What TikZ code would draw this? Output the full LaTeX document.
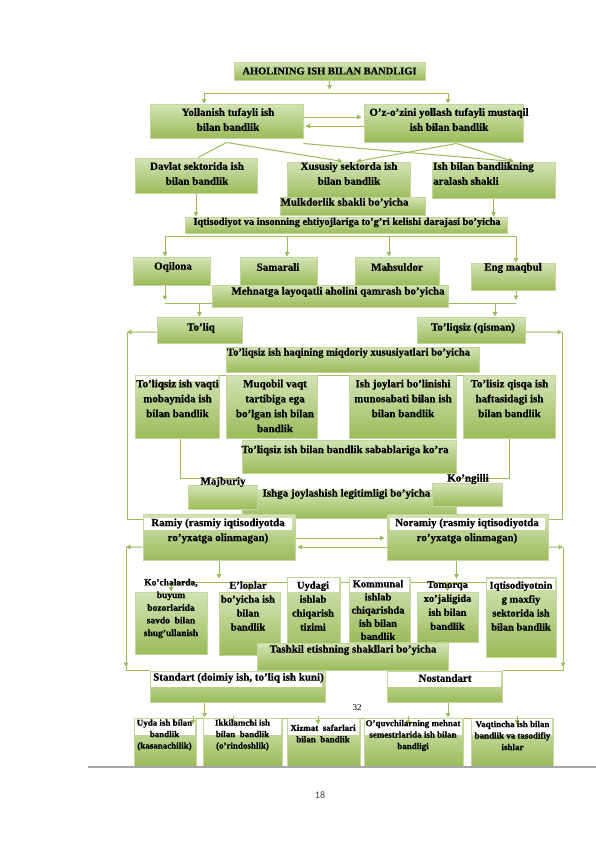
\documentclass[tikz,border=0pt]{standalone}
\usepackage{fontspec}
\setmainfont{Liberation Serif}[BoldFeatures={FakeBold=0.6}]
\newfontfamily\pagenofont{Carlito}
\usetikzlibrary{arrows.meta, backgrounds}
\definecolor{boxtop}{HTML}{D4E3B6}
\definecolor{boxbot}{HTML}{9BBB59}
\definecolor{boxedge}{HTML}{C3D69B}
\definecolor{linkgreen}{HTML}{9BBB59}
\definecolor{rulegray}{HTML}{A6A6A6}

\begin{document}
\begin{tikzpicture}[
    x=1bp, y=-1bp,
    >={Triangle[length=4.5bp, width=4.5bp]},
    box/.style={draw=boxedge, line width=1bp, top color=boxtop, bottom color=boxbot, inner sep=0pt},
    txt/.style={font=\fontsize{11}{15}\selectfont\bfseries, align=center, inner sep=0pt},
    midtxt/.style={txt, font=\fontsize{10.5}{14}\selectfont\bfseries},
    smalltxt/.style={txt, font=\fontsize{9}{11.5}\selectfont\bfseries},
    conn/.style={draw=linkgreen, line width=1bp},
    arr/.style={conn, ->}
]
    \useasboundingbox (0,0) rectangle (596,842);

    % 1. Boxes, from the top of the page down
    \node[box, minimum width=191bp, minimum height=18bp] (title) at (329.5,71) {};
    \node[box, minimum width=153bp, minimum height=34bp] (yoll) at (226.5,121) {};
    \node[box, minimum width=159bp, minimum height=38bp] (ozoz) at (443.5,123) {};
    \node[box, minimum width=122bp, minimum height=35bp] (davlat) at (196,175.5) {};
    \node[box, minimum width=123bp, minimum height=38bp] (xusus) at (348.5,181) {};
    \node[box, minimum width=123bp, minimum height=36bp] (aral) at (493.5,180) {};
    \node[box, minimum width=145bp, minimum height=18bp] (mulk) at (352.5,206) {};
    \node[box, minimum width=322bp, minimum height=16bp] (iqt) at (346,225) {};
    \node[box, minimum width=77bp, minimum height=28bp] (oqil) at (171.5,271) {};
    \node[box, minimum width=77bp, minimum height=28bp] (sama) at (278.5,271) {};
    \node[box, minimum width=84bp, minimum height=28bp] (mahs) at (397,271) {};
    \node[box, minimum width=84bp, minimum height=27bp] (engm) at (513,276.5) {};
    \node[box, minimum width=236bp, minimum height=22bp] (mehn) at (330,296) {};
    \node[box, minimum width=85bp, minimum height=26bp] (toliq) at (199.5,330) {};
    \node[box, minimum width=108bp, minimum height=26bp] (tolqs) at (471,330) {};
    \node[box, minimum width=253bp, minimum height=25bp] (haq) at (352.5,359.5) {};
    \node[box, minimum width=84bp, minimum height=63bp] (vaqt) at (177,406.5) {};
    \node[box, minimum width=91bp, minimum height=63bp] (muqo) at (271.5,406.5) {};
    \node[box, minimum width=107bp, minimum height=63bp] (joyl) at (402.5,406.5) {};
    \node[box, minimum width=92bp, minimum height=63bp] (hafta) at (509,406.5) {};
    \node[box, minimum width=214bp, minimum height=33bp] (sabab) at (349,456.5) {};
    \node[box, minimum width=214bp, minimum height=28bp] (legit) at (349,504) {};
    \node[box, minimum width=69bp, minimum height=24bp] (majb) at (222.5,497) {};
    \node[box, minimum width=70bp, minimum height=23bp] (kong) at (467,494.5) {};
    \node[box, minimum width=152bp, minimum height=46bp] (ramiy) at (219,537) {};
    \node[box, minimum width=161bp, minimum height=46bp] (noram) at (467.5,537) {};
    \node[box, minimum width=72bp, minimum height=62bp] (koch) at (171,623) {};
    \node[box, minimum width=61bp, minimum height=63bp] (elon) at (249.5,623.5) {};
    \node[box, minimum width=53bp, minimum height=78bp] (uyda) at (313.5,616) {};
    \node[box, minimum width=61bp, minimum height=65bp] (komm) at (379.5,609.5) {};
    \node[box, minimum width=61bp, minimum height=50bp] (tomo) at (447.5,617) {};
    \node[box, minimum width=70bp, minimum height=80bp] (maxf) at (521,617) {};
    \node[box, minimum width=191bp, minimum height=27bp] (tashk) at (352.5,656.5) {};
    \node[box, minimum width=175bp, minimum height=31bp] (stand) at (237.5,686.5) {};
    \node[box, minimum width=115bp, minimum height=31bp] (nost) at (444.5,686.5) {};
    \node[box, minimum width=62bp, minimum height=48bp] (uyBox) at (165,742) {};
    \node[box, minimum width=79bp, minimum height=48bp] (ikki) at (242.5,742) {};
    \node[box, minimum width=73bp, minimum height=48bp] (xizm) at (323.5,742) {};
    \node[box, minimum width=99bp, minimum height=48bp] (oquv) at (413.5,742) {};
    \node[box, minimum width=82bp, minimum height=48bp] (vaqtin) at (512,742) {};

    % 2. Connectors, behind the boxes
    \begin{pgfonlayer}{background}
        \fill[white] (0,0) rectangle (596,842);

        % title to the two kinds of employment
        \coordinate (splitL) at (204,93);
        \coordinate (splitR) at (448,93);
        \draw[arr] (title.south) -- ++(0,9);
        \draw[conn] (splitL) -- (splitR);
        \draw[arr] (splitL) -- (splitL |- yoll.north);
        \draw[arr] (splitR) -- (splitR |- ozoz.north);
        \draw[arr, shorten >=2bp] ([yshift=4bp]yoll.east) -- ([yshift=4bp]yoll.east -| ozoz.west);
        \draw[arr, shorten >=2bp] ([yshift=-3bp]ozoz.west) -- ([yshift=-3bp]ozoz.west -| yoll.east);

        % ownership forms
        \draw[conn] ([yshift=-4bp]yoll.south) -- ([xshift=2bp]davlat.north);
        \draw[arr] ([yshift=-4bp]yoll.south) -- ([xshift=-6bp]xusus.north);
        \draw[arr] ([yshift=-5bp]yoll.south east) -- ([xshift=20bp]aral.north);
        \draw[arr] ([xshift=13bp, yshift=-1bp]ozoz.south) -- ([xshift=8bp]xusus.north);
        \draw[arr] ([xshift=13bp, yshift=-1bp]ozoz.south) -- ([xshift=20bp]aral.north);
        \draw[arr] (davlat.south) -- (davlat.south |- iqt.north);
        \draw[arr] (xusus.south) -- (xusus.south |- iqt.north);
        \draw[arr] (aral.south) -- (aral.south |- iqt.north);

        % four levels
        \coordinate (iqtL) at (165,236);
        \coordinate (iqtB) at (287,236);
        \coordinate (iqtC) at (389,236);
        \coordinate (iqtR) at (516,236);
        \draw[conn] (iqtL) -- (iqtR);
        \draw[arr] (iqtL) -- (iqtL |- oqil.north);
        \draw[arr] (iqtB) -- (iqtB |- sama.north);
        \draw[arr] (iqtC) -- (iqtC |- mahs.north);
        \draw[arr] (iqtR) -- (iqtR |- engm.north);

        % full / part time
        \coordinate (mehL) at (165,303);
        \coordinate (mehQ) at (495,303);
        \coordinate (mehR) at (516,303);
        \draw[conn] (mehL) -- (mehR);
        \draw[arr] (oqil.south -| mehL) -- ([yshift=3bp]mehL);
        \draw[arr] (engm.south -| mehR) -- ([yshift=3bp]mehR);
        \draw[arr] ([xshift=-6bp]sama.south) -- ++(0,15);
        \draw[arr] ([xshift=15bp]mahs.south) -- ++(0,15);
        \draw[arr] (toliq.north |- mehL) -- (toliq.north);
        \draw[arr] (mehQ) -- (mehQ |- tolqs.north);

        % outer loop to formal / informal
        \coordinate (loopUL) at (127,332);
        \coordinate (loopLL) at (127,519);
        \coordinate (loopUR) at (562,332);
        \coordinate (loopLR) at (562,519);
        \draw[arr] ([yshift=-2bp]toliq.west) -- (loopUL);
        \draw[conn] (loopUL) -- (loopLL) -- (loopLL -| ramiy.west);
        \draw[arr] ([yshift=-2bp]tolqs.east) -- (loopUR);
        \draw[conn] (loopUR) -- (loopLR) -- (loopLR -| noram.east);

        % part time kinds and reasons
        \coordinate (haqL) at (180,375);
        \coordinate (haqR) at (509,375);
        \coordinate (sabL) at (180,478);
        \coordinate (sabR) at (509,478);
        \draw[conn] (haqL) -- (haqR);
        \draw[conn] (haqL) -- (sabL) -- (sabL -| sabab.west);
        \draw[conn] (haqR) -- (sabR) -- (sabR -| sabab.east);

        % formal / informal
        \draw[arr, shorten >=2bp] ([yshift=-1bp]ramiy.east) -- ([yshift=-1bp]ramiy.east -| noram.west);
        \draw[arr, shorten >=2bp] ([yshift=-10bp]noram.west) -- ([yshift=-10bp]noram.west -| ramiy.east);
        \coordinate (lowUL) at (126,547);
        \coordinate (lowLL) at (126,667);
        \coordinate (lowUR) at (563,547);
        \coordinate (lowLR) at (563,667);
        \draw[arr] ([yshift=-10bp]ramiy.west) -- (lowUL);
        \draw[arr] (lowUL) -- (lowLL);
        \draw[conn] (lowLL) |- (stand.north west);
        \draw[arr] ([yshift=-10bp]noram.east) -- (lowUR);
        \draw[arr] (lowUR) -- (lowLR);
        \draw[conn] (lowLR) |- (nost.north east);

        % organisation forms
        \coordinate (rowL) at (171,582);
        \coordinate (rowR) at (521,582);
        \draw[arr] (ramiy.south) -- ++(0,18);
        \draw[arr] ([xshift=-11bp]noram.south) -- ++(0,18);
        \draw[conn] (rowL) -- (rowR);
        \draw[arr] (rowL -| koch.north) -- (koch.north);
        \draw[arr] (rowL -| elon.north) -- (elon.north);
        \draw[arr] (rowL -| tomo.north) -- (tomo.north);

        % standard / non-standard
        \coordinate (botL) at (165,718);
        \coordinate (botR) at (517,718);
        \draw[arr] ([xshift=-33bp]stand.south) -- ++(0,15);
        \draw[arr] ([xshift=3.5bp]nost.south) -- ++(0,15);
        \draw[conn] (botL) -- (botR);
    \end{pgfonlayer}

    % 3. White bands behind the first text lines
    \fill[white] (136,376) rectangle (218,381);
    \fill[white] (144,518) rectangle (292,530);
    \fill[white] (390,518) rectangle (545,530);
    \fill[white] (288,578) rectangle (339,592);
    \fill[white] (350,578) rectangle (409,592);
    \fill[white] (487,579) rectangle (555,590);
    \fill[white] (151,672) rectangle (322,687);
    \fill[white] (388,672) rectangle (501,687);
    \foreach \xa/\xb in {135/195, 204/281, 288/359, 365/462, 472/552}
        \fill[white] (\xa,719) rectangle (\xb,735);

    % small arrows into the last row
    \foreach \nn/\dx in {uyBox/28, ikki/-9.5, xizm/-5.5, oquv/-5.5, vaqtin/5}
        \draw[arr] ([xshift=\dx bp, yshift=2bp]\nn.north) -- ++(0,9);

    % 4. Texts
    \node[txt, font=\fontsize{10.5}{13}\selectfont\bfseries] (titleT) at (329.5,71) {AHOLINING ISH BILAN BANDLIGI};
    \node[txt] (yollT) at (228,119.5) {Yollanish tufayli ish\\bilan bandlik};
    \node[txt] (ozozT) at (449,119.5) {O'z-o'zini yollash tufayli mustaqil\\ish bilan bandlik};
    \node[txt] (davlatT) at (197,173.5) {Davlat sektorida ish\\bilan bandlik};
    \node[txt] (xususT) at (349,173.5) {Xususiy sektorda ish\\bilan bandlik};
    \node[txt, align=left, anchor=west] (aralT) at (433,173.5) {Ish bilan bandlikning\\aralash shakli};
    \node[txt] (mulkT) at (344.5,203) {Mulkdorlik shakli bo'yicha};
    \node[txt, font=\fontsize{10.4}{13}\selectfont\bfseries] (iqtT) at (347,222.5) {Iqtisodiyot va insonning ehtiyojlariga to'g'ri kelishi darajasi bo'yicha};
    \node[txt] (oqilT) at (173,267) {Oqilona};
    \node[txt] (samaT) at (278,267) {Samarali};
    \node[txt] (mahsT) at (397,267) {Mahsuldor};
    \node[txt] (engmT) at (513,268) {Eng maqbul};
    \node[txt] (mehnT) at (338,292) {Mehnatga layoqatli aholini qamrash bo'yicha};
    \node[txt] (toliqT) at (201,328) {To'liq};
    \node[txt] (tolqsT) at (473,328) {To'liqsiz (qisman)};
    \node[txt, font=\fontsize{10.6}{13}\selectfont\bfseries] (haqT) at (348.5,353) {To'liqsiz ish haqining miqdoriy xususiyatlari bo'yicha};
    \node[txt] (vaqtT) at (177.5,398.5) {To'liqsiz ish vaqti\\mobaynida ish\\bilan bandlik};
    \node[txt] (muqoT) at (275,406) {Muqobil vaqt\\tartibiga ega\\bo'lgan ish bilan\\bandlik};
    \node[txt] (joylT) at (403,398.5) {Ish joylari bo'linishi\\munosabati bilan ish\\bilan bandlik};
    \node[txt] (haftaT) at (509.5,398.5) {To'lisiz qisqa ish\\haftasidagi ish\\bilan bandlik};
    \node[txt] (sababT) at (345,450.5) {To'liqsiz ish bilan bandlik sabablariga ko'ra};
    \node[txt] (majbT) at (223,482) {Majburiy};
    \node[txt] (kongT) at (468,479) {Ko'ngilli};
    \node[txt] (legitT) at (346.5,494) {Ishga joylashish legitimligi bo'yicha};
    \node[txt] (ramiyT) at (218,531) {Ramiy (rasmiy iqtisodiyotda\\ro'yxatga olinmagan)};
    \node[txt] (noramT) at (467,531) {Noramiy (rasmiy iqtisodiyotda\\ro'yxatga olinmagan)};
    \node[txt, font=\fontsize{9.5}{12.7}\selectfont\bfseries] (kochT) at (171,608.5) {Ko'chalarda,\\buyum\\bozorlarida\\savdo\ \ bilan\\shug'ullanish};
    \node[midtxt] (elonT) at (248,606) {E'lonlar\\bo'yicha ish\\bilan\\bandlik};
    \node[midtxt] (uydaT) at (313,606) {Uydagi\\ishlab\\chiqarish\\tizimi};
    \node[midtxt, font=\fontsize{10.5}{13.2}\selectfont\bfseries] (kommT) at (378,610) {Kommunal\\ishlab\\chiqarishda\\ish bilan\\bandlik};
    \node[midtxt] (tomoT) at (447.5,605.5) {Tomorqa\\xo'jaligida\\ish bilan\\bandlik};
    \node[midtxt] (maxfT) at (521,606) {Iqtisodiyotnin\\g maxfiy\\sektorida ish\\bilan bandlik};
    \node[txt] (tashkT) at (353,650) {Tashkil etishning shakllari bo'yicha};
    \node[txt] (standT) at (238.5,678) {Standart (doimiy ish, to'liq ish kuni)};
    \node[txt] (nostT) at (445,678) {Nostandart};
    \node[font=\fontsize{9}{11}\selectfont] (pageA) at (357,708) {32};
    \node[smalltxt] (uyT) at (164.5,735) {Uyda ish bilan\\bandlik\\(kasanachilik)};
    \node[smalltxt] (ikkiT) at (242.5,735) {Ikkilamchi ish\\bilan\ \ bandlik\\(o'rindoshlik)};
    \node[smalltxt] (xizmT) at (323,733.5) {Xizmat\ \ safarlari\\bilan\ \ bandlik};
    \node[smalltxt] (oquvT) at (413,735.5) {O'quvchilarning mehnat\\semestrlarida ish bilan\\bandligi};
    \node[smalltxt] (vaqtinT) at (512.5,735.5) {Vaqtincha ish bilan\\bandlik va tasodifiy\\ishlar};

    % page foot
    \draw[rulegray, line width=1.2bp] (88,767) -- (596,767);
    \node[font=\pagenofont\fontsize{10}{12}\selectfont, text=black!75] (pageB) at (320,795) {18};

\end{tikzpicture}
\end{document}
